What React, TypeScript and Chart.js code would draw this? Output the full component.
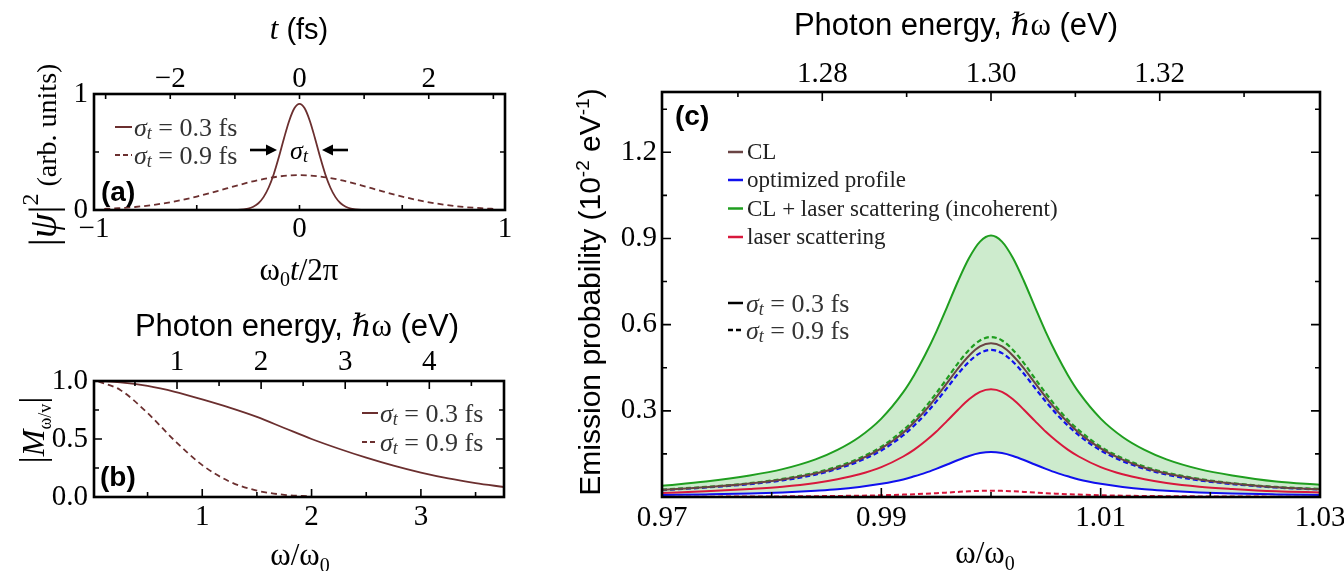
import React, { useEffect, useRef } from "react";
import { Chart, registerables } from "chart.js";

Chart.register(...registerables);

// ---------------- data ----------------
// Panel (a): |psi|^2 vs omega0 t / 2pi
const aSolidX = [-0.95, -0.5, -0.35, -0.3, -0.25, -0.225, -0.2, -0.175, -0.15, -0.125, -0.1, -0.075, -0.05, -0.025, 0, 0.025, 0.05, 0.075, 0.1, 0.125, 0.15, 0.175, 0.2, 0.225, 0.25, 0.3, 0.35, 0.5, 0.95];
const aSolidY = [0, 0, 0.0002, 0.0018, 0.012, 0.028, 0.058, 0.111, 0.194, 0.311, 0.459, 0.621, 0.770, 0.877, 0.915, 0.877, 0.770, 0.621, 0.459, 0.311, 0.194, 0.111, 0.058, 0.028, 0.012, 0.0018, 0.0002, 0, 0];
const aDashedX = [-0.95, -0.9, -0.8, -0.7, -0.6, -0.5, -0.4, -0.3, -0.2, -0.1, 0, 0.1, 0.2, 0.3, 0.4, 0.5, 0.6, 0.7, 0.8, 0.9, 0.95];
const aDashedY = [0.0095, 0.014, 0.026, 0.047, 0.076, 0.116, 0.163, 0.213, 0.258, 0.289, 0.300, 0.289, 0.258, 0.213, 0.163, 0.116, 0.076, 0.047, 0.026, 0.014, 0.0095];
const aBottomLabels = [-1, 0, 1];
const aBottomMinor = [-0.5, 0.5];
const aTopLabels = [-2, 0, 2];
const aTopTicks = [-3, -2, -1, 0, 1, 2, 3];
const aLeftLabels = [0, 1];
const aLeftMinor = [0.5];
const PERIOD_FS = 3.18; // t-axis half range (fs)

// Panel (b): |M| vs omega/omega0
const bSolidX = [0.05, 0.25, 0.5, 0.75, 1, 1.25, 1.5, 1.75, 2, 2.25, 2.5, 2.75, 3, 3.25, 3.5, 3.76];
const bSolidY = [1.0, 0.989, 0.958, 0.907, 0.841, 0.77, 0.69, 0.595, 0.5, 0.416, 0.339, 0.27, 0.21, 0.16, 0.12, 0.086];
const bDashedX = [0.05, 0.25, 0.5, 0.75, 1, 1.25, 1.5, 1.75, 2];
const bDashedY = [0.997, 0.923, 0.724, 0.484, 0.275, 0.133, 0.055, 0.019, 0.006];
const bBottomLabels = [1, 2, 3];
const bBottomMinor = [0.5, 1.5, 2.5, 3.5];
const bTopLabels = [1, 2, 3, 4];
const bTopMinor = [0.5, 1.5, 2.5, 3.5, 4.5];
const bLeftLabels = [0, 0.5, 1];
const bLeftMinor = [0.25, 0.75];
const OMEGA0_EV = 1.3;

// Panel (c): emission probability vs omega/omega0
const cOmega = [0.970, 0.974, 0.978, 0.981, 0.984, 0.986, 0.988, 0.990, 0.992, 0.993, 0.994, 0.995, 0.996, 0.997, 0.998, 0.999, 1.000, 1.001, 1.002, 1.003, 1.004, 1.005, 1.006, 1.007, 1.008, 1.010, 1.012, 1.014, 1.016, 1.019, 1.022, 1.026, 1.030];
const cCL = [0.025, 0.034, 0.047, 0.061, 0.082, 0.102, 0.130, 0.169, 0.224, 0.260, 0.301, 0.347, 0.397, 0.448, 0.492, 0.524, 0.535, 0.524, 0.492, 0.448, 0.397, 0.347, 0.301, 0.260, 0.224, 0.169, 0.130, 0.102, 0.082, 0.061, 0.047, 0.034, 0.027];
const cLaser03 = [0.014, 0.020, 0.028, 0.036, 0.049, 0.062, 0.079, 0.104, 0.141, 0.165, 0.194, 0.227, 0.265, 0.304, 0.340, 0.366, 0.375, 0.366, 0.340, 0.304, 0.265, 0.227, 0.194, 0.165, 0.141, 0.104, 0.079, 0.062, 0.049, 0.036, 0.028, 0.020, 0.016];
const cSum03 = [0.039, 0.054, 0.075, 0.097, 0.131, 0.164, 0.209, 0.273, 0.365, 0.425, 0.495, 0.574, 0.662, 0.752, 0.832, 0.889, 0.910, 0.889, 0.832, 0.752, 0.662, 0.574, 0.495, 0.425, 0.365, 0.273, 0.209, 0.164, 0.131, 0.097, 0.075, 0.054, 0.043];
const cOpt03 = [0.007, 0.009, 0.012, 0.016, 0.022, 0.027, 0.035, 0.046, 0.061, 0.072, 0.084, 0.098, 0.113, 0.129, 0.143, 0.153, 0.157, 0.153, 0.143, 0.129, 0.113, 0.098, 0.084, 0.072, 0.061, 0.046, 0.035, 0.027, 0.022, 0.016, 0.012, 0.009, 0.007];
const cLaser09 = [0.0009, 0.0012, 0.0016, 0.0021, 0.0029, 0.0036, 0.0046, 0.0061, 0.0083, 0.0097, 0.0114, 0.0133, 0.0155, 0.0178, 0.0199, 0.0214, 0.022, 0.0214, 0.0199, 0.0178, 0.0155, 0.0133, 0.0114, 0.0097, 0.0083, 0.0061, 0.0046, 0.0036, 0.0029, 0.0021, 0.0016, 0.0012, 0.0009];
const cSum09 = [0.026, 0.035, 0.048, 0.063, 0.085, 0.106, 0.135, 0.175, 0.233, 0.269, 0.312, 0.361, 0.413, 0.466, 0.512, 0.545, 0.557, 0.545, 0.512, 0.466, 0.413, 0.361, 0.312, 0.269, 0.233, 0.175, 0.135, 0.106, 0.085, 0.063, 0.048, 0.035, 0.028];
const cOpt09 = [0.024, 0.033, 0.045, 0.058, 0.078, 0.098, 0.125, 0.162, 0.215, 0.249, 0.288, 0.332, 0.380, 0.429, 0.471, 0.501, 0.512, 0.501, 0.471, 0.429, 0.380, 0.332, 0.288, 0.249, 0.215, 0.162, 0.125, 0.098, 0.078, 0.058, 0.045, 0.033, 0.026];
const cBottomLabels = [0.97, 0.99, 1.01, 1.03];
const cBottomMinor = [0.98, 1.0, 1.02];
const cTopLabels = [1.28, 1.30, 1.32];
const cTopMinor = [1.27, 1.29, 1.31, 1.33];
const cLeftLabels = [0.3, 0.6, 0.9, 1.2];
const cLeftMinor = [0.15, 0.45, 0.75, 1.05, 1.35];
const cLegend = ["CL", "optimized profile", "CL + laser scattering (incoherent)", "laser scattering"];

// ---------------- styling ----------------
const W = 1400;
const H = 571;
const YW = 60;
const XH = 40;
const TICK_FONT = 29;
const SERIF = '"Liberation Serif", "DejaVu Serif", serif';
const SANS = '"Liberation Sans", Arial, sans-serif';
const BROWN = "#6b2f2f";
const CL_COL = "#6a4444";
const OPT_COL = "#1010ee";
const SUM_COL = "#1f9e1f";
const LASER_COL = "#d8183c";
const FILL_COL = "rgba(40,170,40,0.23)";

type Seg = { t: string; font: string; dy?: number };

function richWidth(ctx: CanvasRenderingContext2D, segs: Seg[]) {
  let w = 0;
  for (const s of segs) {
    ctx.font = s.font;
    w += ctx.measureText(s.t).width;
  }
  return w;
}

function drawRich(ctx: CanvasRenderingContext2D, segs: Seg[], x: number, y: number, align: "left" | "center", color = "#000") {
  ctx.save();
  ctx.fillStyle = color;
  ctx.textAlign = "left";
  let cx = align === "center" ? x - richWidth(ctx, segs) / 2 : x;
  for (const s of segs) {
    ctx.font = s.font;
    ctx.fillText(s.t, cx, y + (s.dy || 0));
    cx += ctx.measureText(s.t).width;
  }
  ctx.restore();
}

function drawRichRot(ctx: CanvasRenderingContext2D, segs: Seg[], x: number, y: number, color = "#000") {
  ctx.save();
  ctx.translate(x, y);
  ctx.rotate(-Math.PI / 2);
  ctx.textBaseline = "alphabetic";
  drawRich(ctx, segs, 0, 0, "center", color);
  ctx.restore();
}

function seg(ctx: CanvasRenderingContext2D, x1: number, y1: number, x2: number, y2: number, color: string, lw: number, dash: number[] = []) {
  ctx.save();
  ctx.strokeStyle = color;
  ctx.lineWidth = lw;
  ctx.setLineDash(dash);
  ctx.beginPath();
  ctx.moveTo(x1, y1);
  ctx.lineTo(x2, y2);
  ctx.stroke();
  ctx.restore();
}

function arrow(ctx: CanvasRenderingContext2D, x1: number, y: number, x2: number) {
  const dir = x2 > x1 ? 1 : -1;
  seg(ctx, x1, y, x2 - dir * 6, y, "#000", 2.6);
  ctx.save();
  ctx.fillStyle = "#000";
  ctx.beginPath();
  ctx.moveTo(x2, y);
  ctx.lineTo(x2 - dir * 11, y - 5.5);
  ctx.lineTo(x2 - dir * 11, y + 5.5);
  ctx.closePath();
  ctx.fill();
  ctx.restore();
}

function sigmaSegs(val: string, size: number): Seg[] {
  return [
    { t: "σ", font: `italic ${size}px ${SERIF}` },
    { t: "t", font: `italic ${Math.round(size * 0.7)}px ${SERIF}`, dy: size * 0.2 },
    { t: ` = ${val} fs`, font: `${size}px ${SERIF}` },
  ];
}

function photonTitle(size: number): Seg[] {
  return [
    { t: "Photon energy, ", font: `${size}px ${SANS}` },
    { t: "ℏω", font: `${size}px ${SERIF}` },
    { t: " (eV)", font: `${size}px ${SANS}` },
  ];
}

function omegaRatio(size: number): Seg[] {
  return [
    { t: "ω/ω", font: `${size}px ${SERIF}` },
    { t: "0", font: `${Math.round(size * 0.65)}px ${SERIF}`, dy: size * 0.22 },
  ];
}

const minus = (v: number) => (v < 0 ? "−" + Math.abs(v) : String(v));

type AxisSpec = { min: number; max: number; labels: number[]; minor: number[]; fmt: (v: number) => string; pad: number };
type PanelSpec = {
  key: string;
  area: { l: number; t: number; r: number; b: number };
  x: AxisSpec;
  x2: AxisSpec;
  y: AxisSpec;
  majorLen: number;
  minorLen: number;
  datasets: any[];
  decorate: (ctx: CanvasRenderingContext2D) => void;
};

function axisOpts(a: AxisSpec, position: string) {
  const horizontal = position === "top" || position === "bottom";
  return {
    type: "linear",
    axis: horizontal ? "x" : "y",
    position,
    min: a.min,
    max: a.max,
    grid: { display: false, drawTicks: false, tickLength: 0 },
    border: { display: false },
    afterBuildTicks: (s: any) => {
      s.ticks = a.labels.map((v) => ({ value: v }));
    },
    afterFit: (s: any) => {
      if (horizontal) s.height = XH;
      else s.width = YW;
    },
    ticks: {
      autoSkip: false,
      maxRotation: 0,
      minRotation: 0,
      padding: a.pad,
      color: "#000",
      font: { family: SERIF, size: TICK_FONT, lineHeight: 1 },
      callback: (v: any) => a.fmt(Number(v)),
    },
  };
}

function framePlugin(p: PanelSpec) {
  return {
    id: "frame_" + p.key,
    afterDatasetsDraw(chart: any) {
      const ctx: CanvasRenderingContext2D = chart.ctx;
      const a = chart.chartArea;
      const sx = chart.scales.x;
      const sx2 = chart.scales.x2;
      const sy = chart.scales.y;
      ctx.save();
      ctx.strokeStyle = "#000";
      ctx.lineWidth = 1.6;
      ctx.setLineDash([]);
      ctx.beginPath();
      const bottom = (v: number, len: number) => {
        const px = sx.getPixelForValue(v);
        ctx.moveTo(px, a.bottom);
        ctx.lineTo(px, a.bottom - len);
      };
      const top = (v: number, len: number) => {
        const px = sx2.getPixelForValue(v);
        ctx.moveTo(px, a.top);
        ctx.lineTo(px, a.top + len);
      };
      const side = (v: number, len: number) => {
        const py = sy.getPixelForValue(v);
        ctx.moveTo(a.left, py);
        ctx.lineTo(a.left + len, py);
        ctx.moveTo(a.right, py);
        ctx.lineTo(a.right - len, py);
      };
      p.x.labels.forEach((v) => bottom(v, p.majorLen));
      p.x.minor.forEach((v) => bottom(v, p.minorLen));
      p.x2.labels.forEach((v) => top(v, p.majorLen));
      p.x2.minor.forEach((v) => top(v, p.minorLen));
      p.y.labels.forEach((v) => side(v, p.majorLen));
      p.y.minor.forEach((v) => side(v, p.minorLen));
      ctx.stroke();
      ctx.lineWidth = 2.6;
      ctx.strokeRect(a.left, a.top, a.right - a.left, a.bottom - a.top);
      ctx.restore();
      ctx.save();
      p.decorate(ctx);
      ctx.restore();
    },
  };
}

function buildConfig(p: PanelSpec): any {
  return {
    type: "line",
    data: { datasets: p.datasets },
    options: {
      animation: false,
      responsive: false,
      devicePixelRatio: 1,
      events: [],
      layout: {
        padding: { left: p.area.l - YW, top: p.area.t - XH, right: W - p.area.r, bottom: H - p.area.b - XH },
      },
      plugins: {
        legend: { display: false },
        tooltip: { enabled: false },
        filler: { drawTime: "beforeDatasetsDraw" },
      },
      elements: { point: { radius: 0 } },
      scales: {
        x: axisOpts(p.x, "bottom"),
        x2: axisOpts(p.x2, "top"),
        y: axisOpts(p.y, "left"),
      },
    },
    plugins: [framePlugin(p)],
  };
}

const pts = (xs: number[], ys: number[]) => xs.map((x, i) => ({ x, y: ys[i] }));

function line(label: string, xs: number[], ys: number[], color: string, dash: number[] = [], width = 2, extra: any = {}) {
  return {
    label,
    data: pts(xs, ys),
    borderColor: color,
    backgroundColor: color,
    borderWidth: width,
    borderDash: dash,
    pointRadius: 0,
    fill: false,
    cubicInterpolationMode: "monotone",
    ...extra,
  };
}

// ---------------- panels ----------------
const panelA: PanelSpec = {
  key: "a",
  area: { l: 94, t: 94, r: 505, b: 210 },
  x: { min: -1, max: 1, labels: aBottomLabels, minor: aBottomMinor, fmt: minus, pad: 5 },
  x2: { min: -PERIOD_FS, max: PERIOD_FS, labels: aTopLabels, minor: aTopTicks, fmt: minus, pad: 0 },
  y: { min: 0, max: 1, labels: aLeftLabels, minor: aLeftMinor, fmt: (v) => String(v), pad: 6 },
  majorLen: 5,
  minorLen: 5,
  datasets: [
    line("σt = 0.3 fs", aSolidX, aSolidY, BROWN, [], 1.8),
    line("σt = 0.9 fs", aDashedX, aDashedY, BROWN, [6, 4], 1.8),
  ],
  decorate: (ctx) => {
    ctx.textBaseline = "alphabetic";
    drawRich(ctx, [{ t: "t", font: `italic 31px ${SERIF}` }, { t: " (fs)", font: `29px ${SANS}` }], 299, 39, "center");
    drawRich(
      ctx,
      [
        { t: "ω", font: `31px ${SERIF}` },
        { t: "0", font: `20px ${SERIF}`, dy: 6 },
        { t: "t", font: `italic 31px ${SERIF}` },
        { t: "/2π", font: `31px ${SERIF}` },
      ],
      299,
      280,
      "center"
    );
    drawRichRot(
      ctx,
      [
        { t: "|", font: `40px ${SERIF}` },
        { t: "ψ", font: `italic 40px ${SERIF}` },
        { t: "|", font: `40px ${SERIF}` },
        { t: "2", font: `24px ${SERIF}`, dy: -18 },
        { t: " (arb. units)", font: `28px ${SERIF}` },
      ],
      56,
      155
    );
    seg(ctx, 115, 127, 132, 127, BROWN, 2);
    seg(ctx, 115, 155, 132, 155, BROWN, 2, [5, 3]);
    ctx.textBaseline = "middle";
    drawRich(ctx, sigmaSegs("0.3", 26), 134, 129, "left", "#333");
    drawRich(ctx, sigmaSegs("0.9", 26), 134, 157, "left", "#333");
    arrow(ctx, 250, 150, 277);
    arrow(ctx, 348, 150, 322);
    drawRich(
      ctx,
      [
        { t: "σ", font: `italic 26px ${SERIF}` },
        { t: "t", font: `italic 18px ${SERIF}`, dy: 5 },
      ],
      299,
      152,
      "center"
    );
    ctx.font = `bold 28px ${SANS}`;
    ctx.fillStyle = "#000";
    ctx.textAlign = "left";
    ctx.fillText("(a)", 101, 193);
  },
};

const panelB: PanelSpec = {
  key: "b",
  area: { l: 94, t: 381, r: 504, b: 497 },
  x: { min: 0.01, max: 3.76, labels: bBottomLabels, minor: bBottomMinor, fmt: (v) => String(v), pad: 6 },
  x2: { min: 0.01 * OMEGA0_EV, max: 3.76 * OMEGA0_EV, labels: bTopLabels, minor: bTopMinor, fmt: (v) => String(v), pad: 4 },
  y: { min: 0, max: 1, labels: bLeftLabels, minor: bLeftMinor, fmt: (v) => v.toFixed(1), pad: 6 },
  majorLen: 8,
  minorLen: 5,
  datasets: [
    line("σt = 0.3 fs", bSolidX, bSolidY, BROWN, [], 1.8),
    line("σt = 0.9 fs", bDashedX, bDashedY, BROWN, [6, 4], 1.8),
  ],
  decorate: (ctx) => {
    ctx.textBaseline = "alphabetic";
    drawRich(ctx, photonTitle(31), 297, 336, "center");
    drawRich(ctx, omegaRatio(31), 300, 565, "center");
    drawRichRot(
      ctx,
      [
        { t: "|", font: `36px ${SERIF}` },
        { t: "M", font: `italic 32px ${SERIF}` },
        { t: "ω/v", font: `18px ${SERIF}`, dy: 7 },
        { t: "|", font: `36px ${SERIF}` },
      ],
      44,
      430
    );
    seg(ctx, 362, 413, 378, 413, BROWN, 2);
    seg(ctx, 362, 442, 378, 442, BROWN, 2, [5, 3]);
    ctx.textBaseline = "middle";
    drawRich(ctx, sigmaSegs("0.3", 26), 380, 415, "left", "#333");
    drawRich(ctx, sigmaSegs("0.9", 26), 380, 444, "left", "#333");
    ctx.font = `bold 28px ${SANS}`;
    ctx.fillStyle = "#000";
    ctx.textAlign = "left";
    ctx.fillText("(b)", 100, 478);
  },
};

const legendColors = [CL_COL, OPT_COL, SUM_COL, LASER_COL];
const panelC: PanelSpec = {
  key: "c",
  area: { l: 662, t: 92, r: 1320, b: 497 },
  x: { min: 0.97, max: 1.03, labels: cBottomLabels, minor: cBottomMinor, fmt: (v) => v.toFixed(2), pad: 7 },
  x2: { min: 0.97 * OMEGA0_EV, max: 1.03 * OMEGA0_EV, labels: cTopLabels, minor: cTopMinor, fmt: (v) => v.toFixed(2), pad: 3 },
  y: { min: 0, max: 1.41, labels: cLeftLabels, minor: cLeftMinor, fmt: (v) => v.toFixed(1), pad: 5 },
  majorLen: 9,
  minorLen: 5,
  datasets: [
    line("CL", cOmega, cCL, CL_COL, [], 2),
    line("CL + laser (0.9 fs)", cOmega, cSum09, SUM_COL, [5, 3], 2.2),
    line("optimized (0.9 fs)", cOmega, cOpt09, OPT_COL, [5, 3], 2.2),
    line("laser scattering", cOmega, cLaser03, LASER_COL, [], 2),
    line("optimized profile", cOmega, cOpt03, OPT_COL, [], 2),
    line("laser (0.9 fs)", cOmega, cLaser09, LASER_COL, [5, 3], 2),
    line("CL + laser scattering (incoherent)", cOmega, cSum03, SUM_COL, [], 2, {
      fill: { target: 4, above: FILL_COL, below: FILL_COL },
    }),
  ],
  decorate: (ctx) => {
    ctx.textBaseline = "alphabetic";
    drawRich(ctx, photonTitle(31), 956, 35, "center");
    drawRich(ctx, omegaRatio(31), 985, 563, "center");
    drawRichRot(
      ctx,
      [
        { t: "Emission probability (10", font: `30px ${SANS}` },
        { t: "-2", font: `19px ${SANS}`, dy: -11 },
        { t: " eV", font: `30px ${SANS}` },
        { t: "-1", font: `19px ${SANS}`, dy: -11 },
        { t: ")", font: `30px ${SANS}` },
      ],
      600,
      292
    );
    const rows = [152, 180, 208.5, 237];
    ctx.textBaseline = "middle";
    cLegend.forEach((txt, i) => {
      seg(ctx, 728, rows[i], 743, rows[i], legendColors[i], 2.5);
      drawRich(ctx, [{ t: txt, font: `23px ${SERIF}` }], 747, rows[i] + 1, "left", "#222");
    });
    seg(ctx, 728, 303, 743, 303, "#000", 2.5);
    seg(ctx, 728, 330, 743, 330, "#000", 2.5, [5, 3]);
    drawRich(ctx, sigmaSegs("0.3", 26), 746, 305, "left", "#333");
    drawRich(ctx, sigmaSegs("0.9", 26), 746, 332, "left", "#333");
    ctx.font = `bold 28px ${SANS}`;
    ctx.fillStyle = "#000";
    ctx.textAlign = "left";
    ctx.fillText("(c)", 675, 117);
  },
};

export default function App() {
  const refA = useRef<HTMLCanvasElement | null>(null);
  const refB = useRef<HTMLCanvasElement | null>(null);
  const refC = useRef<HTMLCanvasElement | null>(null);

  useEffect(() => {
    const charts: Chart[] = [];
    if (refA.current) charts.push(new Chart(refA.current, buildConfig(panelA)));
    if (refB.current) charts.push(new Chart(refB.current, buildConfig(panelB)));
    if (refC.current) charts.push(new Chart(refC.current, buildConfig(panelC)));
    return () => charts.forEach((c) => c.destroy());
  }, []);

  const cs: React.CSSProperties = { position: "absolute", left: 0, top: 0, width: W, height: H };
  return (
    <div style={{ position: "fixed", left: 0, top: 0, width: 1344, height: 571, overflow: "hidden", background: "#fff" }}>
      <canvas ref={refA} width={W} height={H} style={cs} />
      <canvas ref={refB} width={W} height={H} style={cs} />
      <canvas ref={refC} width={W} height={H} style={cs} />
    </div>
  );
}
